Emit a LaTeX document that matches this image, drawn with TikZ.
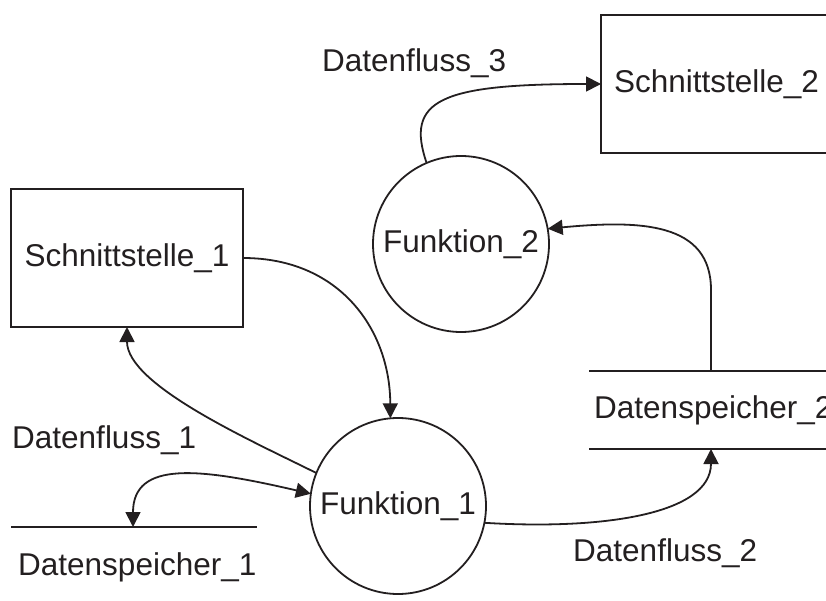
\documentclass[tikz,border=0pt]{standalone}
\usepackage{fontspec}
\setmainfont{Liberation Sans}
\usetikzlibrary{arrows.meta}
\definecolor{ink}{RGB}{35,31,32}
\begin{document}
\begin{tikzpicture}[x=1pt,y=-1pt,
  every node/.style={font=\fontsize{31.5}{37}\selectfont, text=ink},
  iface/.style={draw=ink, line width=1.8pt, rectangle, inner sep=0pt, outer sep=0pt,
                minimum width=232pt, minimum height=138pt},
  func/.style={draw=ink, line width=1.8pt, circle, inner sep=0pt, outer sep=0pt,
               minimum size=176pt},
  lbl/.style={inner sep=0pt, anchor=base west},
  storeline/.style={draw=ink, line width=1.8pt},
  flow/.style={draw=ink, line width=1.8pt, -{Triangle[length=15pt,width=15pt]}},
  flowboth/.style={draw=ink, line width=1.8pt, {Triangle[length=15pt,width=15pt]}-{Triangle[length=15pt,width=15pt]}}
]
\useasboundingbox (0,0) rectangle (826,601);
\clip (0,0) rectangle (826,601);

% interfaces
\node[iface] (S1) at (127,258) {Schnittstelle\_1};
\node[iface, minimum width=231pt] (S2) at (716.5,84) {Schnittstelle\_2};

% functions
\node[func] (F1) at (398,506) {Funktion\_1};
\node[func] (F2) at (461,244) {Funktion\_2};

% data stores
\node[lbl] (D1) at (18,575) {Datenspeicher\_1};
\coordinate (D1l) at (11,527);
\coordinate (D1r) at (257,527);
\coordinate (D1in) at (133,527);
\draw[storeline] (D1l) -- (D1r);

\node[lbl] (D2) at (594,418) {Datenspeicher\_2};
\coordinate (D2tl) at (589,371);
\coordinate (D2tr) at (840,371);
\coordinate (D2bl) at (589,449);
\coordinate (D2br) at (840,449);
\coordinate (D2top) at (711,371);
\coordinate (D2bot) at (711,449);
\coordinate (D2up) at (711,290);
\draw[storeline] (D2tl) -- (D2tr);
\draw[storeline] (D2bl) -- (D2br);

% flow labels
\node[lbl] (L1) at (12,448) {Datenfluss\_1};
\node[lbl] (L2) at (573,561) {Datenfluss\_2};
\node[lbl] (L3) at (322,72) {Datenfluss\_3};

% data flows
\draw[flow] (S1.east) .. controls (340,258) and (390,330) .. (F1.95);
\draw[flow] (F1.158) .. controls (250,440) and (127,385) .. (S1.south);
\draw[flowboth] (D1in) .. controls (133,460) and (200,468) .. (F1.172);
\draw[flow] (F1.-11) .. controls (600,530) and (711,515) .. (D2bot);
\draw[flow] (D2top) -- (D2up) .. controls (711,222) and (640,220) .. (F2.10);
\draw[flow] (F2.113) .. controls (405,100) and (440,84) .. (S2.west);
\end{tikzpicture}
\end{document}
